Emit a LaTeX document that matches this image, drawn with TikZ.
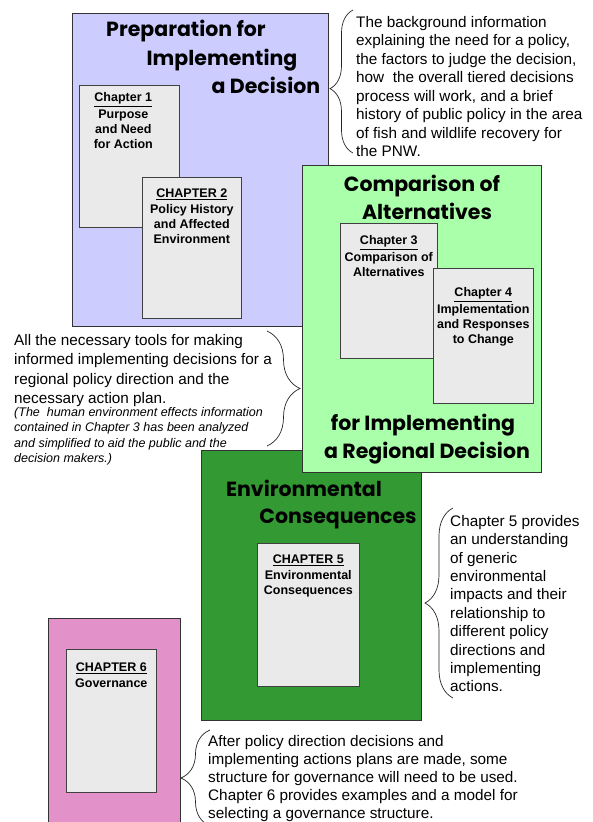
\documentclass[tikz,border=0pt]{standalone}
\usepackage{fontspec}
\setmainfont{Liberation Sans}
\newfontfamily\headfont{Poppins}
\usetikzlibrary{positioning, calc, decorations.pathreplacing}

\definecolor{prepblue}{HTML}{CCCCFF}
\definecolor{compgreen}{HTML}{AAFFAA}
\definecolor{envgreen}{HTML}{339933}
\definecolor{govpink}{HTML}{E291C9}
\definecolor{chapgray}{HTML}{EAEAEA}

\begin{document}
\begin{tikzpicture}[x=1pt, y=-1pt,
    part/.style={draw=black!80, line width=0.8pt, anchor=north west, inner sep=0pt},
    chapbox/.style={draw=black!75, fill=chapgray, line width=0.6pt, anchor=north west, inner sep=0pt},
    chaptext/.style={font=\bfseries\fontsize{12.5}{15}\selectfont, align=center, inner sep=0pt},
    head/.style={font=\headfont\bfseries\fontsize{20.5}{28}\selectfont, anchor=base, inner sep=0pt},
    note/.style={font=\fontsize{15.3}{18.5}\selectfont, align=left, anchor=north west, inner sep=0pt},
    bracket/.style={decorate, decoration={brace, amplitude=#1}, draw=black!85, line width=0.7pt}]

\useasboundingbox (0,0) rectangle (593,822);

% preparation
\node[part, fill=prepblue, minimum width=256pt, minimum height=313pt] (prep) at (72,13) {};
\node[head] (prep1) at (186,36.7) {Preparation for};
\node[head] (prep2) at (222,65) {Implementing};
\node[head] (prep3) at (266,93) {a Decision};

\node[chapbox, minimum width=100pt, minimum height=142pt] (ch1) at (79,85) {};
\node[chaptext, below=7.5pt of ch1.north, xshift=-6pt] (ch1txt) {\underline{Chapter 1}\\[1.5pt]Purpose\\and Need\\for Action};
\node[chapbox, minimum width=99pt, minimum height=141pt] (ch2) at (142,177) {};
\node[chaptext, below=11.5pt of ch2.north] (ch2txt) {\underline{CHAPTER 2}\\[1.5pt]Policy History\\and Affected\\Environment};

% environmental consequences
\node[part, fill=envgreen, minimum width=220pt, minimum height=270pt] (env) at (201,450) {};
\node[head] (env1) at (304,496) {Environmental};
\node[head] (env2) at (338,523.5) {Consequences};

\node[chapbox, minimum width=102pt, minimum height=143pt] (ch5) at (257,543) {};
\node[chaptext, below=11.5pt of ch5.north] (ch5txt) {\underline{CHAPTER 5}\\[1.5pt]Environmental\\Consequences};

% comparison
\node[part, fill=compgreen, minimum width=239pt, minimum height=307pt] (comp) at (302,165) {};
\node[head] (comp1) at (422,191.7) {Comparison of};
\node[head] (comp2) at (427,219) {Alternatives};
\node[head] (comp3) at (423,430.7) {for Implementing};
\node[head] (comp4) at (427,458.5) {a Regional Decision};

\node[chapbox, minimum width=97pt, minimum height=135pt] (ch3) at (340,223) {};
\node[chaptext, below=12.5pt of ch3.north] (ch3txt) {\underline{Chapter 3}\\[1.5pt]Comparison of\\Alternatives};
\node[chapbox, minimum width=100pt, minimum height=135pt] (ch4) at (433,268) {};
\node[chaptext, below=19.5pt of ch4.north] (ch4txt) {\underline{Chapter 4}\\[1.5pt]Implementation\\and Responses\\to Change};

% governance
\node[part, fill=govpink, minimum width=132pt, minimum height=210pt] (gov) at (48,618) {};
\node[chapbox, minimum width=90pt, minimum height=143pt] (ch6) at (66,649) {};
\node[chaptext, below=13.5pt of ch6.north] (ch6txt) {\underline{CHAPTER 6}\\[1.5pt]Governance};

% side notes
\node[note] (bgtext) at (356,16) {The background information\\explaining the need for a policy,\\the factors to judge the decision,\\how\ \ the overall tiered decisions\\process will work, and a brief\\history of public policy in the area\\of fish and wildlife recovery for\\the PNW.};
\node[note, font=\fontsize{15.3}{19.4}\selectfont] (tools) at (14,334) {All the necessary tools for making\\informed implementing decisions for a\\regional policy direction and the\\necessary action plan.};
\node[note, font=\itshape\fontsize{12.5}{15.5}\selectfont, below right=0pt and 0pt of tools.south west] (toolsnote) {(The\ \ human environment effects information\\contained in Chapter 3 has been analyzed\\and simplified to aid the public and the\\decision makers.)};
\node[note, font=\fontsize{15.3}{18.4}\selectfont] (impacts) at (450,515) {Chapter 5 provides\\an understanding\\of generic\\environmental\\impacts and their\\relationship to\\different policy\\directions and\\implementing\\actions.};
\node[note, font=\fontsize{15.3}{18}\selectfont] (govtext) at (208,735) {After policy direction decisions and\\implementing actions plans are made, some\\structure for governance will need to be used.\\Chapter 6 provides examples and a model for\\selecting a governance structure.};

% braces
\coordinate (bgtop) at (353,10);
\coordinate (bgbot) at (353,153);
\coordinate (toolstop) at (267,331);
\coordinate (toolsbot) at (267,446);
\coordinate (imptop) at (453,508);
\coordinate (impbot) at (453,698);
\coordinate (govtop) at (210,730);
\coordinate (govbot) at (210,826);

\draw[bracket=23pt, decoration={aspect=0.45}] (bgbot) -- (bgtop);
\draw[bracket=33pt] (toolstop) -- (toolsbot);
\draw[bracket=28pt] (impbot) -- (imptop);
\draw[bracket=29pt] (govbot) -- (govtop);

\end{tikzpicture}
\end{document}
